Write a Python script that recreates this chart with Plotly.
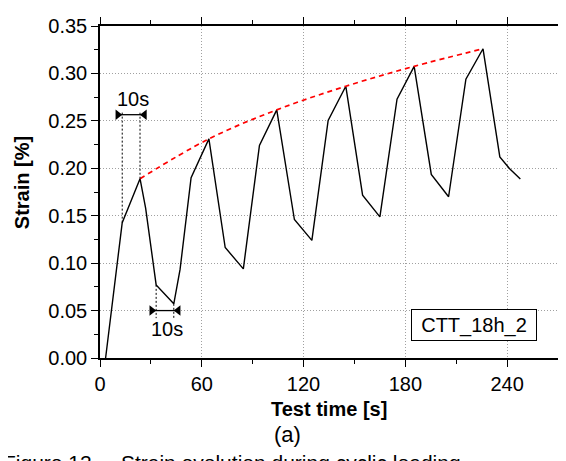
import plotly.graph_objects as go

# ---- data ----
time_s = [3.3, 13.1, 23.6, 26.9, 33.1, 43.5, 47.2, 53.7, 64.2, 73.8, 84.5, 94.0,
          104.2, 114.6, 124.9, 134.5, 144.9, 154.8, 165.0, 175.1, 185.2, 195.3,
          205.5, 215.7, 225.8, 235.7, 241.5, 247.8]
strain = [0.000, 0.1427, 0.189, 0.158, 0.0771, 0.0571, 0.0934, 0.190, 0.231, 0.1165,
          0.094, 0.224, 0.2616, 0.146, 0.124, 0.2504, 0.2865, 0.1716, 0.1488, 0.2728,
          0.3075, 0.1935, 0.170, 0.294, 0.326, 0.212, 0.1995, 0.1886]
peak_idx = [2, 8, 12, 16, 20, 24]
x_ticks = [0, 60, 120, 180, 240]
y_ticks = [0.00, 0.05, 0.10, 0.15, 0.20, 0.25, 0.30, 0.35]
label_text = "CTT_18h_2"
x_title = "Test time [s]"
y_title = "Strain [%]"

FONT = "Liberation Sans, Arial, sans-serif"

# plot-area geometry in page pixels (page has an 8px body margin)
PX_L, PX_B, PX_W, PX_H = 100.0, 358.3, 461.0, 343.3


def px(xp, yp):
    return (xp - PX_L) / PX_W, (PX_B - yp) / PX_H


fig = go.Figure()

# main strain curve
fig.add_trace(go.Scatter(x=time_s, y=strain, mode="lines",
                         line=dict(color="black", width=1.4), showlegend=False))

# red dashed envelope through peaks
fig.add_trace(go.Scatter(x=[time_s[i] for i in peak_idx],
                         y=[strain[i] for i in peak_idx],
                         mode="lines", line=dict(color="#ff0000", width=1.7,
                                                 dash="5px,4px", shape="spline"),
                         showlegend=False))


# 10s dimension markers
def dim_marker(i1, i2, y_arrow, y_end, label_y):
    t1, t2 = time_s[i1], time_s[i2]
    for i in (i1, i2):
        fig.add_shape(type="line", x0=time_s[i], x1=time_s[i], y0=strain[i], y1=y_end,
                      line=dict(color="black", width=1, dash="2px,2px"))
    fig.add_trace(go.Scatter(x=[t1 - 2.6, t2 + 2.6], y=[y_arrow, y_arrow],
                             mode="lines+markers",
                             line=dict(color="black", width=1.3),
                             marker=dict(symbol=["triangle-right", "triangle-left"],
                                         size=9, color="black"),
                             showlegend=False))
    fig.add_annotation(x=(t1 + t2) / 2 + 1.0, y=label_y, text="10s", showarrow=False,
                       font=dict(family=FONT, size=20, color="black"),
                       xanchor="center", yanchor="middle")


dim_marker(1, 2, 0.2565, 0.2605, 0.273)
dim_marker(4, 5, 0.050, 0.042, 0.0305)

# sample label box
bx, by = px(476, 324.5)
fig.add_annotation(xref="paper", yref="paper", x=bx, y=by, text=label_text,
                   showarrow=False, font=dict(family=FONT, size=20, color="black"),
                   bordercolor="black", borderwidth=1, borderpad=3, bgcolor="white",
                   width=118, height=24, align="center",
                   xanchor="center", yanchor="middle")

# axis titles
ax_, ay_ = px(330, 411)
fig.add_annotation(xref="paper", yref="paper", x=ax_, y=ay_,
                   text="<b>" + x_title + "</b>", showarrow=False,
                   font=dict(family=FONT, size=20, color="black"),
                   xanchor="center", yanchor="middle")
tx, ty = px(21, 177)
fig.add_annotation(xref="paper", yref="paper", x=tx, y=ty,
                   text="<b>" + y_title + "</b>", showarrow=False,
                   textangle=-90, font=dict(family=FONT, size=20, color="black"),
                   xanchor="center", yanchor="middle")
# caption
cx, cy = px(289, 437)
fig.add_annotation(xref="paper", yref="paper", x=cx, y=cy, text="(a)", showarrow=False,
                   font=dict(family=FONT, size=22, color="black"),
                   xanchor="center", yanchor="middle")
fx, fy = px(0, 452)
fig.add_annotation(xref="paper", yref="paper", x=fx, y=fy,
                   text="Figure 12 –  Strain evolution during cyclic loading",
                   showarrow=False, font=dict(family=FONT, size=21, color="black"),
                   xanchor="left", yanchor="top")

axis_common = dict(showline=True, linecolor="black", linewidth=1.5, mirror="ticks",
                   ticks="outside", ticklen=7, tickwidth=1.3, tickcolor="black",
                   showgrid=True, gridcolor="#a0a0a0", griddash="1px,2px", gridwidth=1,
                   zeroline=False,
                   tickfont=dict(family=FONT, size=20, color="black"))

fig.update_xaxes(range=[0, 270], tickvals=x_ticks,
                 minor=dict(dtick=30, tick0=0, ticks="outside", ticklen=4,
                            tickwidth=1.2, tickcolor="black", showgrid=False),
                 **axis_common)
fig.update_yaxes(range=[0, 0.35], tickvals=y_ticks, tickformat=".2f",
                 minor=dict(dtick=0.025, tick0=0, ticks="outside", ticklen=4,
                            tickwidth=1.2, tickcolor="black", showgrid=False),
                 **axis_common)

# figure is drawn 8px right/down by the page margin
fig.update_layout(width=566, height=461,
                  margin=dict(l=92, r=13, t=7, b=111),
                  plot_bgcolor="white", paper_bgcolor="white", showlegend=False)

fig.write_html("out.html")
